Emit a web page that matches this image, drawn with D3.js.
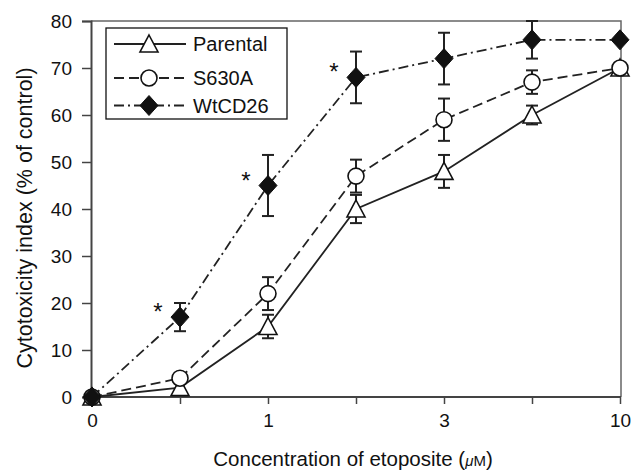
<!DOCTYPE html>
<meta charset="utf-8" />
<style>
  body { margin: 0; background: #fff; }
  svg text { font-family: "Liberation Sans", Arial, sans-serif; fill: #111; }
</style>
<script src="https://d3js.org/d3.v7.min.js"></script>
<svg id="chart" width="640" height="470"></svg>
<script>
  // data
  const doses = ["0", "0.5", "1", "2", "3", "5", "10"];
  const shownTicks = ["0", "1", "3", "10"];
  const yTicks = [0, 10, 20, 30, 40, 50, 60, 70, 80];

  const parental = [0, 2, 15, 40, 48, 60, 70];
  const parentalErr = [0, 0, 2.5, 3, 3.5, 2, 1];
  const s630a = [0, 4, 22, 47, 59, 67, 70];
  const s630aErr = [0, 0, 3.5, 3.5, 4.5, 2.5, 1];
  const wtcd26 = [0, 17, 45, 68, 72, 76, 76];
  const wtcd26Err = [0, 3, 6.5, 5.5, 5.5, 4, 0];
  const starred = ["0.5", "1", "2"];

  const svg = d3.select('#chart');
  const pL = 92, pR = 620, pT = 21, pB = 397;

  const x = d3.scalePoint().domain(doses).range([pL, pR]);
  const y = d3.scaleLinear().domain([0, 80]).range([pB, pT]);

  // frame top / right
  svg.append('path')
    .attr('d', `M${pL - 1},${pT}H${pR + 1}V${pB}`)
    .attr('fill', 'none').attr('stroke', '#666').attr('stroke-width', 1.5);

  const xAxis = svg.append('g')
    .attr('transform', `translate(0,${pB})`)
    .call(d3.axisBottom(x).tickSize(7).tickPadding(10)
      .tickFormat(d => shownTicks.includes(d) ? d : ''));
  xAxis.select('.domain').attr('d', `M${pL - 1},0H${pR + 1}`);

  const yAxis = svg.append('g')
    .attr('transform', `translate(${pL - 1},0)`)
    .call(d3.axisLeft(y).tickValues(yTicks).tickSize(9).tickPadding(10));

  [xAxis, yAxis].forEach(g => {
    g.select('.domain').attr('stroke', '#444').attr('stroke-width', 2);
    g.selectAll('.tick line').attr('stroke', '#444').attr('stroke-width', 1.5);
    g.selectAll('.tick text').attr('font-size', 19).attr('fill', '#111')
      .attr('font-family', '"Liberation Sans", Arial, sans-serif');
  });
  yAxis.selectAll('.tick text').attr('dy', '0.36em');

  // axis titles
  const xt = svg.append('text')
    .attr('x', 353).attr('y', 466)
    .attr('text-anchor', 'middle').attr('font-size', 20.5);
  xt.append('tspan').text('Concentration of etoposite (');
  xt.append('tspan').attr('font-size', 15).attr('font-style', 'italic').text('μ');
  xt.append('tspan').attr('font-size', 15).text('M');
  xt.append('tspan').text(')');

  svg.append('text')
    .attr('transform', 'translate(32,218) rotate(-90)')
    .attr('text-anchor', 'middle').attr('font-size', 21.5)
    .text('Cytotoxicity index (% of control)');

  const series = [
    { name: 'WtCD26', vals: wtcd26, err: wtcd26Err, dash: '10,4,2,4', marker: 'diamond' },
    { name: 'S630A', vals: s630a, err: s630aErr, dash: '10,5', marker: 'circle' },
    { name: 'Parental', vals: parental, err: parentalErr, dash: null, marker: 'triangle' }
  ];

  const line = d3.line().x((d, i) => x(doses[i])).y(d => y(d));

  series.forEach(s => {
    svg.append('path')
      .datum(s.vals)
      .attr('d', line)
      .attr('fill', 'none')
      .attr('stroke', '#222')
      .attr('stroke-width', 1.8)
      .attr('stroke-dasharray', s.dash);
  });

  function drawMarker(g, type) {
    if (type === 'triangle') {
      g.append('path').attr('d', 'M0,-9L9,8H-9Z')
        .attr('fill', '#fff').attr('stroke', '#111').attr('stroke-width', 1.6);
    } else if (type === 'circle') {
      g.append('circle').attr('r', 8)
        .attr('fill', '#fff').attr('stroke', '#111').attr('stroke-width', 1.6);
    } else {
      g.append('path').attr('d', 'M0,-10L9,0L0,10L-9,0Z')
        .attr('fill', '#111').attr('stroke', '#111').attr('stroke-width', 1);
    }
  }

  // error bars
  series.forEach(s => {
    s.vals.forEach((v, i) => {
      const e = s.err[i];
      if (!e) return;
      const cx = x(doses[i]);
      const g = svg.append('g').attr('stroke', '#222').attr('stroke-width', 2);
      g.append('line').attr('x1', cx).attr('x2', cx).attr('y1', y(v - e)).attr('y2', y(v + e));
      [v - e, v + e].forEach(t => {
        g.append('line').attr('x1', cx - 6).attr('x2', cx + 6).attr('y1', y(t)).attr('y2', y(t));
      });
    });
  });

  // markers
  series.slice().reverse().forEach(s => {
    s.vals.forEach((v, i) => {
      const g = svg.append('g').attr('transform', `translate(${x(doses[i])},${y(v)})`);
      drawMarker(g, s.marker);
    });
  });

  // significance asterisks
  starred.forEach(d => {
    const i = doses.indexOf(d);
    svg.append('text')
      .attr('x', x(d) - 22).attr('y', y(wtcd26[i]) + 3)
      .attr('text-anchor', 'middle').attr('font-size', 24).attr('fill', '#555')
      .text('*');
  });

  // legend
  const lg = svg.append('g').attr('transform', 'translate(106,28)');
  lg.append('rect').attr('width', 181).attr('height', 91)
    .attr('fill', '#fff').attr('stroke', '#111').attr('stroke-width', 1.3);
  const legendRows = [16, 50, 77.5];
  ['Parental', 'S630A', 'WtCD26'].forEach((name, k) => {
    const s = series.find(d => d.name === name);
    const ly = legendRows[k];
    lg.append('line').attr('x1', 8).attr('x2', 80).attr('y1', ly).attr('y2', ly)
      .attr('stroke', '#222').attr('stroke-width', 1.8).attr('stroke-dasharray', s.dash);
    drawMarker(lg.append('g').attr('transform', `translate(43,${ly})`), s.marker);
    lg.append('text').attr('x', 87).attr('y', ly).attr('dy', '0.36em')
      .attr('font-size', 20).text(name);
  });
</script>
